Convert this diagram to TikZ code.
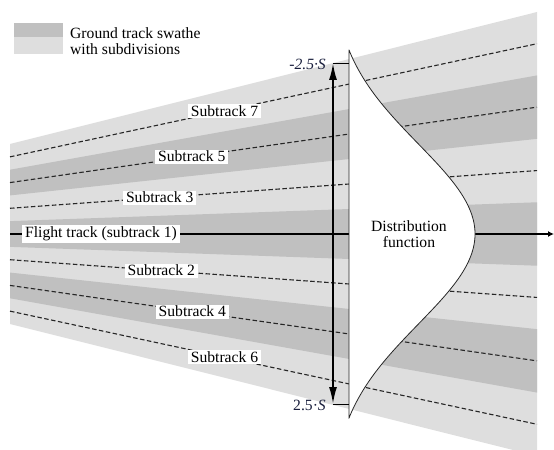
\documentclass[tikz,border=0pt]{standalone}
\usepackage{fontspec}
\setmainfont{Liberation Serif}
\usetikzlibrary{arrows.meta,calc}
\definecolor{bandlight}{RGB}{222,222,222}
\definecolor{banddark}{RGB}{192,192,192}
\definecolor{navytext}{RGB}{25,30,60}
\tikzset{
  subline/.style={dashed, dash pattern=on 4.5bp off 2.5bp, line width=1.1bp, black!85},
  sublabel/.style={fill=white, inner xsep=3bp, inner ysep=1.5bp},
  limitlabel/.style={anchor=east, inner sep=1bp, text=navytext},
  thickarrow/.style={line width=2bp, {Latex[length=17bp,width=8bp]}-{Latex[length=17bp,width=8bp]}},
}
\begin{document}
\begin{tikzpicture}[x=1bp, y=-1bp, font=\fontsize{15.7}{16.5}\selectfont]
\useasboundingbox (0,0) rectangle (554,450);
% swathe background
\fill[bandlight] (10,144) -- (537,12) -- (537,456) -- (10,324) -- cycle;
\foreach \k in {-2,0,2}{
  \fill[banddark] (10,{234+(\k-0.5)*25.714}) -- (537,{234+(\k-0.5)*63.43})
     -- (537,{234+(\k+0.5)*63.43}) -- (10,{234+(\k+0.5)*25.714}) -- cycle;
}
% subtrack lines end points
\coordinate (La) at (10,{234-1*25.714}); \coordinate (Ra) at (537,{234-1*63.43});
\coordinate (Lb) at (10,{234-2*25.714}); \coordinate (Rb) at (537,{234-2*63.43});
\coordinate (Lc) at (10,{234-3*25.714}); \coordinate (Rc) at (537,{234-3*63.43});
\coordinate (Ld) at (10,{234+1*25.714}); \coordinate (Rd) at (537,{234+1*63.43});
\coordinate (Le) at (10,{234+2*25.714}); \coordinate (Re) at (537,{234+2*63.43});
\coordinate (Lf) at (10,{234+3*25.714}); \coordinate (Rf) at (537,{234+3*63.43});
\draw[subline] (La) -- (Ra);
\draw[subline] (Lb) -- (Rb);
\draw[subline] (Lc) -- (Rc);
\draw[subline] (Ld) -- (Rd);
\draw[subline] (Le) -- (Re);
\draw[subline] (Lf) -- (Rf);
% flight track
\coordinate (ftL) at (10,234);
\coordinate (ftR) at (554,234);
\draw[line width=1.3bp, -{Latex[length=6bp,width=6bp]}] (ftL) -- (ftR);
% distribution function
\draw[fill=white, draw=black!85, line width=0.8bp] (349,418) -- (349,50) --
  plot[domain=-184:184, samples=120] ({349+126*(exp(-0.5*(\x/90)^2)-0.1237)/0.8763},{234+\x}) -- cycle;
\node[align=center] (dist) at (409,234) {Distribution\\function};
% limits
\coordinate (aT) at (333,63);
\coordinate (aB) at (333,404);
\coordinate (tT) at (349,63);
\coordinate (tB) at (349,404);
\draw[line width=0.9bp] (aT) -- (tT);
\draw[line width=0.9bp] (aB) -- (tB);
\draw[thickarrow] (aT) -- (aB);
\node[limitlabel] (limT) at (327,64) {\textit{-2.5·S}};
\node[limitlabel] (limB) at (327,405) {2.5·\textit{S}};
% labels
\node[sublabel] (s3) at ($(La)!0.284!(Ra)$) {Subtrack 3};
\node[sublabel] (s5) at ($(Lb)!0.345!(Rb)$) {Subtrack 5};
\node[sublabel] (s7) at ($(Lc)!0.407!(Rc)$) {Subtrack 7};
\node[sublabel] (s2) at ($(Ld)!0.287!(Rd)$) {Subtrack 2};
\node[sublabel] (s4) at ($(Le)!0.346!(Re)$) {Subtrack 4};
\node[sublabel] (s6) at ($(Lf)!0.407!(Rf)$) {Subtrack 6};
\node[sublabel] (ft) at (101,234) {Flight track (subtrack 1)};
% legend
\fill[banddark] (14,23) rectangle (63,37);
\fill[bandlight] (14,37) rectangle (63,54);
\node[anchor=west, align=left, inner sep=0pt] (leg) at (70,41) {Ground track swathe\\with subdivisions};
\end{tikzpicture}
\end{document}
